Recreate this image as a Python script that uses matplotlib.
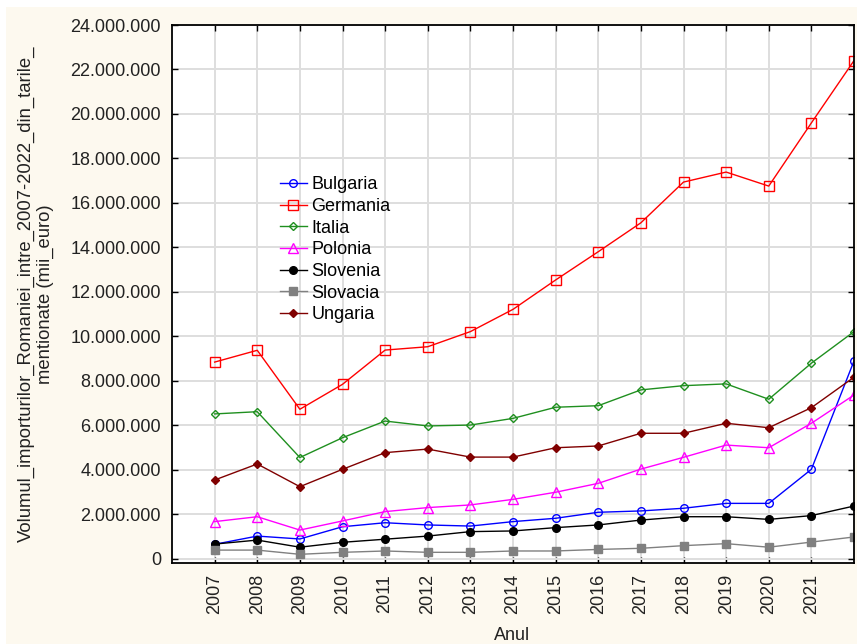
import matplotlib
matplotlib.use("Agg")
import matplotlib.pyplot as plt
from matplotlib.patches import Rectangle
from matplotlib.ticker import FuncFormatter, MultipleLocator

plt.rcParams['font.family'] = ['Liberation Sans', 'DejaVu Sans']

years = list(range(2007, 2023))

# values in mii euro
bulgaria = [660000, 1030000, 900000, 1450000, 1630000, 1530000, 1480000, 1680000,
            1830000, 2100000, 2160000, 2280000, 2500000, 2500000, 4030000, 8900000]
germania = [8850000, 9380000, 6730000, 7850000, 9390000, 9540000, 10220000, 11220000,
            12540000, 13810000, 15110000, 16940000, 17390000, 16760000, 19600000, 22400000]
italia = [6520000, 6620000, 4560000, 5450000, 6200000, 5980000, 6020000, 6320000,
          6820000, 6890000, 7600000, 7790000, 7870000, 7180000, 8800000, 10220000]
polonia = [1680000, 1900000, 1300000, 1710000, 2130000, 2310000, 2430000, 2680000,
           3000000, 3400000, 4040000, 4570000, 5120000, 5000000, 6100000, 7370000]
slovenia = [670000, 850000, 530000, 750000, 890000, 1030000, 1230000, 1260000,
            1410000, 1530000, 1750000, 1900000, 1900000, 1780000, 1950000, 2380000]
slovacia = [400000, 400000, 210000, 300000, 360000, 300000, 300000, 360000,
            360000, 430000, 480000, 600000, 690000, 530000, 760000, 990000]
ungaria = [3550000, 4270000, 3250000, 4030000, 4780000, 4940000, 4580000, 4580000,
           5000000, 5080000, 5650000, 5650000, 6100000, 5900000, 6800000, 8170000]

year_labels = [str(y) for y in range(2007, 2022)]

fig = plt.figure(figsize=(8.57, 6.44), dpi=100, facecolor='white')
fig.patches.append(Rectangle((6 / 857, 0), 1, 1 - 7 / 644, transform=fig.transFigure,
                             facecolor='#fdf9ef', edgecolor='none', zorder=-10))

ax = fig.add_axes([172 / 857, 1 - 563 / 644, 682 / 857, 538 / 644])
ax.set_facecolor('white')

lw = 1.0
ax.plot(years, bulgaria, color='#0000ff', lw=lw, marker='o', ms=5.5, mfc='none', mew=1.0, label='Bulgaria')
ax.plot(years, germania, color='#ff0000', lw=lw, marker='s', ms=6.5, mfc='none', mew=1.0, label='Germania')
ax.plot(years, italia, color='#1f8f1f', lw=lw, marker='D', ms=4.5, mfc='none', mew=1.0, label='Italia')
ax.plot(years, polonia, color='#ff00ff', lw=lw, marker='^', ms=6.5, mfc='none', mew=1.0, label='Polonia')
ax.plot(years, slovenia, color='black', lw=lw, marker='o', ms=5.5, label='Slovenia')
ax.plot(years, slovacia, color='#808080', lw=lw, marker='s', ms=6, label='Slovacia')
ax.plot(years, ungaria, color='#800000', lw=lw, marker='D', ms=4.5, label='Ungaria')

ax.set_xlim(2006, 2022)
ax.set_ylim(-180000, 24000000)
ax.set_xticks(range(2007, 2022))
ax.set_xticklabels(year_labels, rotation=90)
ax.yaxis.set_major_locator(MultipleLocator(2000000))
ax.yaxis.set_major_formatter(FuncFormatter(lambda v, p: f"{int(round(v)):,}".replace(',', '.')))

ax.grid(True, color='#dedede', lw=1.4)
ax.set_axisbelow(True)
for s in ax.spines.values():
    s.set_linewidth(1.3)
    s.set_color('black')
ax.tick_params(direction='in', length=4, width=1, top=True, right=True,
               labelsize=13, labelcolor='#222222', pad=8)

leg = ax.legend(loc='upper left', bbox_to_anchor=(0.158, 0.719), frameon=False,
                fontsize=13, borderpad=0, handlelength=1.5, handletextpad=0.25,
                labelspacing=0.26, borderaxespad=0)

fig.text(36 / 857, 1 - 294 / 644,
         "Volumul_importurilor_Romaniei_intre_2007-2022_din_tarile_\nmentionate (mii_euro)",
         rotation=90, ha='center', va='center', multialignment='center',
         fontsize=13.3, color='#222222', linespacing=1.15)
fig.text(512 / 857, 1 - 635 / 644, "Anul", ha='center', va='center', fontsize=13, color='#222222')

fig.savefig('out.png', dpi=100, facecolor=fig.get_facecolor())
